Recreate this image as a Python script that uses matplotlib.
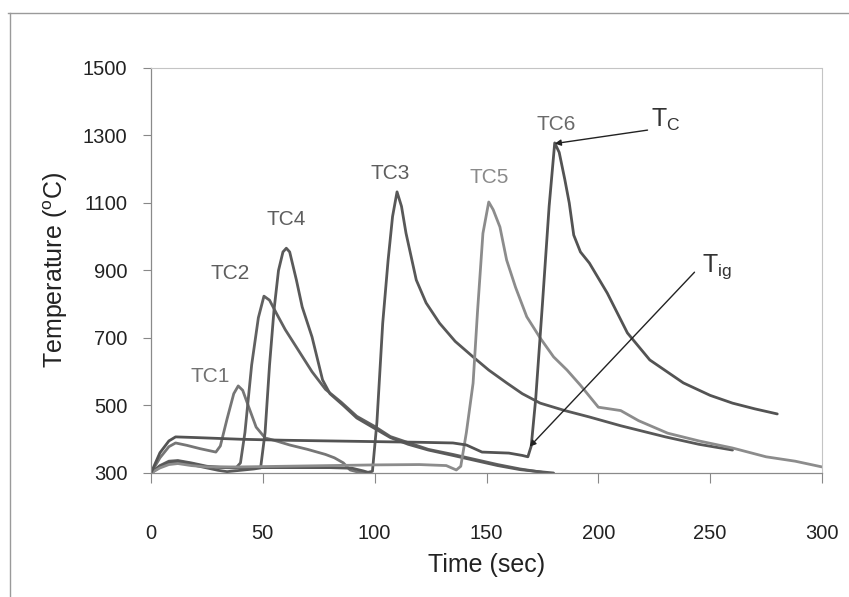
import matplotlib
matplotlib.use("Agg")
import matplotlib.pyplot as plt
from matplotlib.lines import Line2D

plt.rcParams['font.family'] = ['Liberation Sans', 'DejaVu Sans']
plt.rcParams['mathtext.default'] = 'regular'

# ---- data (time in s, temperature in deg C) ----
tc1_t = [0, 4, 8, 11, 16, 22, 29, 31, 34, 37, 39, 41, 44, 47, 51, 56, 62, 70, 78, 82, 86, 89, 93, 96]
tc1_T = [300, 345, 378, 389, 382, 372, 362, 380, 460, 535, 558, 545, 490, 436, 404, 395, 383, 370, 355, 345, 330, 309, 302, 300]

tc2_t = [0, 4, 8, 12, 18, 25, 32, 38, 40, 42, 45, 48, 50.5, 53, 56, 60, 65, 72, 78, 85, 92, 100, 107, 115, 124, 135, 145, 155, 165, 175]
tc2_T = [300, 322, 335, 337, 330, 320, 316, 315, 330, 420, 620, 760, 824, 812, 774, 725, 673, 600, 548, 510, 468, 438, 408, 390, 370, 355, 340, 325, 312, 302]

tc4_t = [0, 4, 8, 12, 18, 25, 30, 34, 40, 46, 49, 51, 53, 55, 57, 59, 60.5, 62, 65, 67.6, 72, 76.7, 80, 86, 92, 100, 107, 115, 124, 135, 145, 155, 165, 172, 180]
tc4_T = [300, 318, 330, 332, 325, 315, 308, 304, 308, 312, 315, 420, 620, 783, 900, 955, 966, 955, 872, 792, 703, 576, 535, 500, 463, 432, 405, 385, 368, 352, 337, 322, 310, 305, 300]

tc3_t = [0, 4, 8, 12, 18, 25, 40, 60, 80, 90, 95, 97, 99, 101, 103.6, 106, 108, 110, 112, 114, 118.6, 123, 129, 136, 144, 151, 159, 166, 174, 185, 196, 210, 230, 245, 260]
tc3_T = [300, 320, 332, 335, 328, 318, 316, 316, 316, 314, 306, 302, 305, 450, 744, 930, 1060, 1133, 1090, 1011, 872, 804, 744, 690, 644, 605, 567, 535, 507, 485, 466, 440, 407, 385, 368]

tc5_t = [0, 4, 8, 12, 18, 25, 40, 60, 80, 100, 120, 132, 136.5, 138.5, 141, 144, 146, 148.4, 151, 153, 156, 159, 163, 168, 174, 180, 186, 192, 200, 205, 210, 218, 231, 245, 260, 275, 288, 300]
tc5_T = [300, 315, 325, 328, 322, 318, 318, 320, 322, 324, 325, 322, 309, 320, 420, 566, 780, 1010, 1103, 1080, 1029, 931, 850, 763, 700, 644, 605, 560, 495, 490, 485, 455, 418, 395, 374, 348, 335, 318]

tc6_t = [0, 4, 8, 11, 20, 40, 60, 80, 100, 120, 135, 141, 148, 160, 166, 168.5, 170, 172, 175, 178, 180.5, 182.5, 185, 187, 189, 192, 196, 204, 213, 223, 238, 250, 260, 270, 280]
tc6_T = [300, 360, 395, 407, 405, 400, 397, 395, 393, 391, 389, 383, 362, 359, 352, 348, 380, 520, 800, 1090, 1278, 1250, 1170, 1100, 1005, 955, 922, 833, 715, 635, 567, 530, 507, 490, 475]

series = [
    ("TC1", tc1_t, tc1_T, "#767676"),
    ("TC2", tc2_t, tc2_T, "#616161"),
    ("TC4", tc4_t, tc4_T, "#5a5a5a"),
    ("TC3", tc3_t, tc3_T, "#585858"),
    ("TC5", tc5_t, tc5_T, "#8c8c8c"),
    ("TC6", tc6_t, tc6_T, "#535353"),
]

labels = ["TC1", "TC2", "TC4", "TC3", "TC5", "TC6"]
label_x = [26.5, 35.5, 60.5, 107, 151, 181]
label_y = [585, 892, 1050, 1186, 1177, 1332]
label_colors = ["#727272", "#5e5e5e", "#5e5e5e", "#5e5e5e", "#8a8a8a", "#6a6a6a"]

xticks = [0, 50, 100, 150, 200, 250, 300]
yticks = [300, 500, 700, 900, 1100, 1300, 1500]

fig = plt.figure(figsize=(8.49, 5.97), dpi=100)
ax = fig.add_axes([151/849, 1 - 473/597, (822 - 151)/849, (473 - 68)/597])

for name, t, T, c in series:
    ax.plot(t, T, color=c, lw=2.0, solid_joinstyle='round', solid_capstyle='round')

for s, x, y, c in zip(labels, label_x, label_y, label_colors):
    ax.text(x, y, s, color=c, fontsize=15, ha='center', va='center')

# annotations
ax.annotate('', xy=(180.5, 1276), xytext=(222, 1316),
            arrowprops=dict(arrowstyle='-|>', color='#222222', lw=1.0,
                            mutation_scale=9, shrinkA=0, shrinkB=0))
ax.text(223.5, 1327, r'T$_{C}$', fontsize=18, color='#333333', ha='left', va='baseline')

ax.annotate('', xy=(169.3, 378), xytext=(243, 895),
            arrowprops=dict(arrowstyle='-|>', color='#222222', lw=1.0,
                            mutation_scale=9, shrinkA=0, shrinkB=0))
ax.text(246.5, 896, r'T$_{ig}$', fontsize=18, color='#333333', ha='left', va='baseline')

ax.set_xlim(0, 300)
ax.set_ylim(300, 1500)
ax.set_xticks(xticks)
ax.set_yticks(yticks)
ax.tick_params(axis='x', direction='out', length=7, width=0.8, color='#888888',
               pad=30, labelsize=14.5, labelcolor='#222222')
ax.tick_params(axis='y', direction='out', length=6, width=0.8, color='#888888',
               pad=11, labelsize=14.5, labelcolor='#222222')

for side in ['left', 'bottom']:
    ax.spines[side].set_color('#8a8a8a')
    ax.spines[side].set_linewidth(0.9)
for side in ['top', 'right']:
    ax.spines[side].set_color('#c4c4c4')
    ax.spines[side].set_linewidth(0.8)
    ax.spines[side].set_linestyle((0, (1, 1)))

ax.set_xlabel('Time (sec)', fontsize=18, color='#222222', labelpad=7)
ax.set_ylabel(r'Temperature ($^{o}$C)', fontsize=18, color='#222222', labelpad=9)

# outer frame of the scanned figure
fig.add_artist(Line2D([8/849, 1.0], [1 - 13/597, 1 - 13/597], color='#9a9a9a', lw=1.0))
fig.add_artist(Line2D([10/849, 10/849], [0, 1 - 13/597], color='#9a9a9a', lw=1.0))

fig.savefig('out.png', dpi=100)
